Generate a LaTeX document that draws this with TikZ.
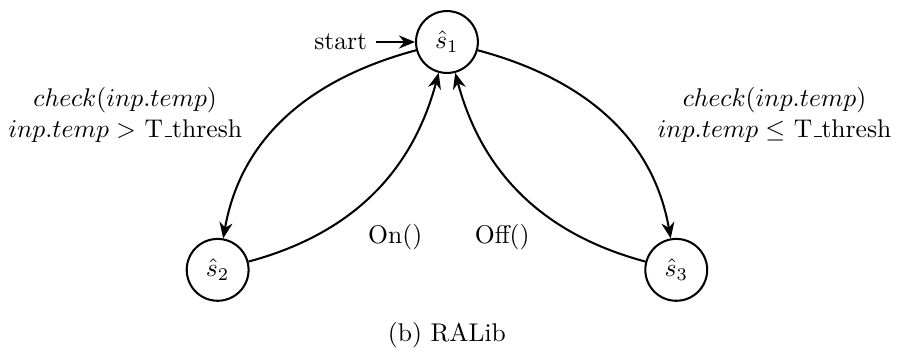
\documentclass[tikz,border=0pt]{standalone}
\usepackage{tikz}
\usetikzlibrary{arrows.meta, positioning}
\newcommand{\lowbar}{\leavevmode\kern.06em\vbox{\hrule width.3em}}
\tikzset{
    statenode/.style={
        circle,
        draw,
        thick,
        minimum size=0.85cm,
        inner sep=0pt
    },
    transarrow/.style={-{Stealth[length=2.2mm, width=1.8mm]}, thick},
    guardlabel/.style={align=center}
}

\begin{document}
\begin{tikzpicture}
        \useasboundingbox (-6.14,-4.26) rectangle (6.21,0.577);

        \node[statenode] (s1) at (0,0) {$\hat{s}_1$};
        \node[statenode] (s2) at (-3.15,-3.13) {$\hat{s}_2$};
        \node[statenode] (s3) at (3.15,-3.13) {$\hat{s}_3$};
        \node (start) at (-1.46,0) {start};

        \draw[transarrow] (start) -- (s1);
        \draw[transarrow] (s1) to[out=195, in=80] (s2);
        \draw[transarrow] (s2) to[out=15, in=-105] (s1);
        \draw[transarrow] (s1) to[out=-15, in=100] (s3);
        \draw[transarrow] (s3) to[out=165, in=-75] (s1);

        \node[guardlabel] (g12) at (-4.42,-1.0) {$check(inp.temp)$\\$inp.temp >$ T\lowbar thresh};
        \node[guardlabel] (g13) at (4.5,-1.0) {$check(inp.temp)$\\$inp.temp \leq$ T\lowbar thresh};
        \node (on) at (-0.71,-2.68) {On()};
        \node (off) at (0.76,-2.68) {Off()};

        \node (caption) at (0,-4.02) {(b) RALib};
    \end{tikzpicture}
\end{document}
